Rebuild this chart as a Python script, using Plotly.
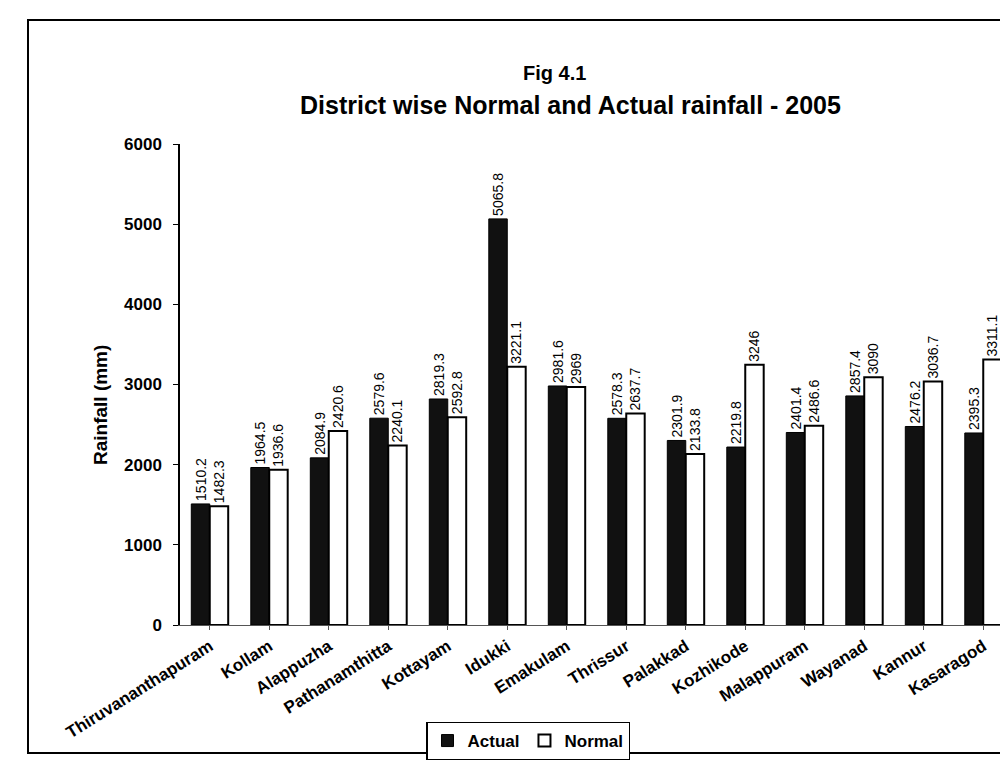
import plotly.graph_objects as go

districts = ["Thiruvananthapuram", "Kollam", "Alappuzha", "Pathanamthitta", "Kottayam",
             "Idukki", "Emakulam", "Thrissur", "Palakkad", "Kozhikode", "Malappuram",
             "Wayanad", "Kannur", "Kasaragod"]
actual = [1510.2, 1964.5, 2084.9, 2579.6, 2819.3, 5065.8, 2981.6, 2578.3, 2301.9,
          2219.8, 2401.4, 2857.4, 2476.2, 2395.3]
normal = [1482.3, 1936.6, 2420.6, 2240.1, 2592.8, 3221.1, 2969, 2637.7, 2133.8,
          3246, 2486.6, 3090, 3036.7, 3311.1]
y_ticks = [0, 1000, 2000, 3000, 4000, 5000, 6000]

FONT = "Liberation Sans, Arial, sans-serif"

fig = go.Figure()
fig.add_trace(go.Bar(
    name="Actual", x=districts, y=actual,
    marker=dict(color="#111111", line=dict(color="#000000", width=1)),
    text=[str(v) for v in actual], textposition="outside", textangle=-90,
    constraintext="none",
    textfont=dict(family=FONT, size=14, color="#000000"), cliponaxis=False,
))
fig.add_trace(go.Bar(
    name="Normal", x=districts, y=normal,
    marker=dict(color="#ffffff", line=dict(color="#000000", width=2)),
    text=[str(v) for v in normal], textposition="outside", textangle=-90,
    constraintext="none",
    textfont=dict(family=FONT, size=14, color="#000000"), cliponaxis=False,
))

L, R, T, B = 172, 3, 136, 143
W, H = 1008, 760
pw = W - L - R
ph = H - T - B

fig.update_layout(
    width=W, height=H,
    margin=dict(l=L, r=R, t=T, b=B),
    paper_bgcolor="white", plot_bgcolor="white",
    barmode="group", bargap=0.38, bargroupgap=0.0,
    font=dict(family=FONT, color="#000000"),
    uniformtext=dict(mode=False),
    xaxis=dict(
        tickangle=-32, tickfont=dict(family=FONT, size=17, color="#000000", weight="bold"),
        showline=True, linecolor="#555555", linewidth=1,
        ticks="outside", ticklen=4, tickcolor="#555555",
        showgrid=False,
    ),
    yaxis=dict(
        range=[0, 6000], tickvals=y_ticks,
        tickfont=dict(family=FONT, size=17, color="#000000", weight="bold"),
        showline=True, linecolor="#000000", linewidth=1.5,
        ticks="outside", ticklen=5, tickcolor="#000000",
        ticklabelstandoff=8,
        showgrid=False, zeroline=False,
    ),
    legend=dict(
        orientation="h", x=(520 - L) / pw, xanchor="center",
        y=-(733 - (T + ph)) / ph, yanchor="middle",
        bordercolor="#000000", borderwidth=1.5,
        font=dict(family=FONT, size=17, color="#000000", weight="bold"),
        itemwidth=30,
    ),
)

fig.add_annotation(text="Rainfall (mm)", xref="paper", yref="paper", textangle=-90,
                   x=(92 - L) / pw, y=1 - (397 - T) / ph, xanchor="center", yanchor="middle",
                   showarrow=False, font=dict(family=FONT, size=19, color="#000000", weight="bold"))
fig.add_annotation(text="Fig 4.1", xref="paper", yref="paper",
                   x=(546 - L) / pw, y=1 + (T - 65) / ph, xanchor="center", yanchor="middle",
                   showarrow=False, font=dict(family=FONT, size=20, color="#000000", weight="bold"))
fig.add_annotation(text="District wise Normal and Actual rainfall - 2005", xref="paper", yref="paper",
                   x=(562 - L) / pw, y=1 + (T - 97) / ph, xanchor="center", yanchor="middle",
                   showarrow=False, font=dict(family=FONT, size=25, color="#000000", weight="bold"))

# outer frame of the figure box
fig.add_shape(type="rect", xref="paper", yref="paper",
              x0=(20 - L) / pw, x1=(1010 - L) / pw,
              y0=1 + (T - 745) / ph, y1=1 + (T - 12) / ph,
              line=dict(color="#000000", width=2), layer="below")

fig.write_html("out.html")
